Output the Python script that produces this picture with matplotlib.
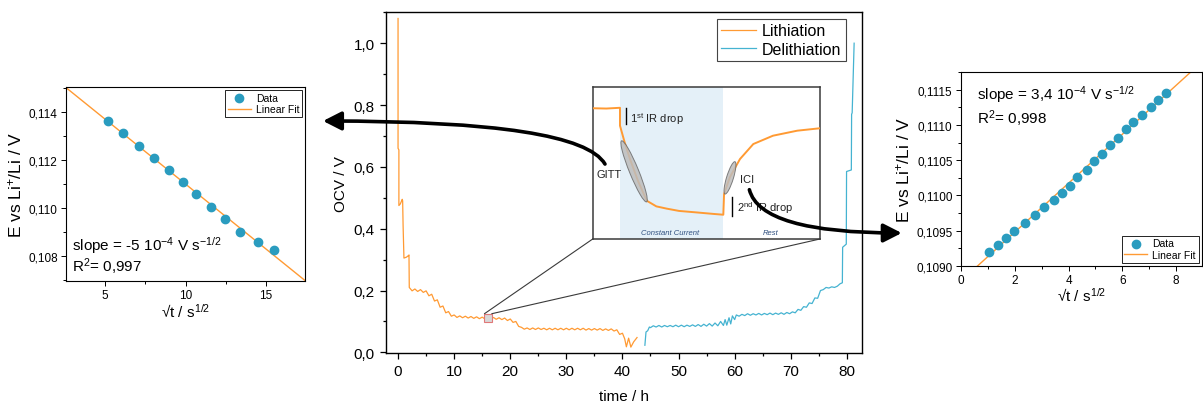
import numpy as np
import matplotlib
matplotlib.use("Agg")
import matplotlib.pyplot as plt
from matplotlib.patches import Ellipse, Rectangle, ConnectionPatch
from matplotlib.ticker import FuncFormatter, MultipleLocator

plt.rcParams['font.family'] = ['Liberation Sans', 'DejaVu Sans']
plt.rcParams['mathtext.fontset'] = 'custom'
plt.rcParams['mathtext.rm'] = 'Liberation Sans'
plt.rcParams['mathtext.it'] = 'Liberation Sans:italic'
plt.rcParams['mathtext.default'] = 'regular'

ORANGE = '#ff9a33'
CYAN = '#45b3d1'
TEAL = '#2a9cbf'

# --- GITT fit (left) ---
gitt_x = [5.2, 6.14, 7.11, 8.02, 8.96, 9.83, 10.67, 11.57, 12.47, 13.4, 14.48, 15.5]
gitt_y = [0.11363, 0.11313, 0.11260, 0.11211, 0.11160, 0.11110, 0.11058,
          0.11007, 0.10955, 0.10903, 0.10860, 0.10826]

# --- ICI fit (right) ---
ici_x = [1.04, 1.39, 1.67, 1.96, 2.37, 2.76, 3.10, 3.45, 3.74, 4.04, 4.32,
         4.67, 4.96, 5.24, 5.55, 5.84, 6.12, 6.41, 6.73, 7.05, 7.34, 7.63]
ici_y = [0.10920, 0.10930, 0.10939, 0.10950, 0.10961, 0.10972, 0.10984,
         0.10993, 0.11003, 0.11014, 0.11026, 0.11036, 0.11049, 0.11059,
         0.11071, 0.11081, 0.11094, 0.11104, 0.11114, 0.11125, 0.11136, 0.11146]

# --- OCV vs time (centre) ---
lithiation = [
    (0.0, 1.08), (0.0, 0.66), (0.15, 0.655), (0.15, 0.475), (0.4, 0.48),
    (0.75, 0.495), (0.82, 0.49), (0.9, 0.41), (1.05, 0.305), (1.5, 0.308),
    (1.85, 0.313), (1.95, 0.315), (2.0, 0.21), (2.5, 0.199), (3.0, 0.205),
    (3.5, 0.197), (4.0, 0.203), (4.5, 0.194), (5.0, 0.199), (5.5, 0.183),
    (6.0, 0.188), (6.5, 0.166), (7.0, 0.170), (7.5, 0.146), (8.0, 0.150),
    (8.5, 0.128), (9.0, 0.132), (9.5, 0.117), (10.0, 0.121), (10.5, 0.113),
    (11.0, 0.118), (11.5, 0.112), (12.0, 0.117), (12.5, 0.111), (13.0, 0.116),
    (13.5, 0.110), (14.0, 0.115), (14.5, 0.109), (15.0, 0.114), (15.5, 0.108),
    (16.0, 0.113), (16.5, 0.107), (17.0, 0.113), (17.5, 0.107), (18.0, 0.112),
    (18.5, 0.106), (19.0, 0.111), (19.5, 0.103), (20.0, 0.108), (20.5, 0.097),
    (21.0, 0.100), (21.5, 0.084), (22.0, 0.081), (22.5, 0.075), (23.0, 0.079),
    (23.5, 0.074), (24.0, 0.079), (24.5, 0.074), (25.0, 0.079), (25.5, 0.074),
    (26.0, 0.078), (26.5, 0.073), (27.0, 0.078), (27.5, 0.073), (28.0, 0.078),
    (28.5, 0.073), (29.0, 0.078), (29.5, 0.073), (30.0, 0.078), (30.5, 0.073),
    (31.0, 0.078), (31.5, 0.073), (32.0, 0.078), (32.5, 0.073), (33.0, 0.078),
    (33.5, 0.072), (34.0, 0.077), (34.5, 0.072), (35.0, 0.077), (35.5, 0.072),
    (36.0, 0.077), (36.5, 0.071), (37.0, 0.076), (37.5, 0.071), (38.0, 0.076),
    (38.5, 0.069), (39.0, 0.073), (39.5, 0.058), (40.0, 0.062), (40.4, 0.044),
    (40.7, 0.018), (41.1, 0.046), (41.5, 0.017), (42.0, 0.034), (42.6, 0.048),
]
delithiation = [
    (44.0, 0.023), (44.2, 0.066), (44.5, 0.070), (44.8, 0.082), (45.0, 0.080),
    (45.5, 0.086), (46.0, 0.082), (46.5, 0.087), (47.0, 0.082), (47.5, 0.087),
    (48.0, 0.083), (48.5, 0.087), (49.0, 0.083), (49.5, 0.088), (50.0, 0.083),
    (50.5, 0.088), (51.0, 0.083), (51.5, 0.088), (52.0, 0.084), (52.5, 0.089),
    (53.0, 0.084), (53.5, 0.090), (54.0, 0.084), (54.5, 0.091), (55.0, 0.085),
    (55.5, 0.093), (56.0, 0.085), (56.5, 0.095), (57.0, 0.086), (57.5, 0.100),
    (58.0, 0.087), (58.3, 0.106), (58.6, 0.088), (59.0, 0.112), (59.3, 0.092),
    (59.6, 0.118), (60.0, 0.106), (60.3, 0.121), (60.8, 0.117), (61.3, 0.123),
    (61.8, 0.119), (62.3, 0.125), (62.8, 0.120), (63.3, 0.125), (63.8, 0.121),
    (64.3, 0.126), (64.8, 0.121), (65.3, 0.126), (65.8, 0.122), (66.3, 0.127),
    (66.8, 0.122), (67.3, 0.127), (67.8, 0.123), (68.3, 0.128), (68.8, 0.123),
    (69.3, 0.129), (69.8, 0.125), (70.3, 0.131), (70.8, 0.128), (71.3, 0.139),
    (71.8, 0.136), (72.3, 0.148), (72.8, 0.146), (73.3, 0.160), (73.8, 0.158),
    (74.3, 0.176), (74.8, 0.175), (75.3, 0.200), (75.8, 0.203), (76.3, 0.210),
    (76.8, 0.208), (77.3, 0.212), (77.8, 0.210), (78.3, 0.214), (78.8, 0.222),
    (79.2, 0.225), (79.25, 0.34), (79.9, 0.35), (79.95, 0.585), (80.8, 0.59),
    (80.85, 0.77), (80.95, 0.775), (81.3, 1.0),
]
zoom_box = (15.4, 0.098, 1.3, 0.027)  # t0, V0, width, height

# --- schematic inset (single GITT/ICI step) ---
schem_x = [0.0, 0.09, 0.18, 0.18, 0.21, 0.246, 0.30, 0.357, 0.42, 0.489,
           0.57, 0.687, 0.80, 0.862, 0.867, 0.905, 0.972, 1.06, 1.19, 1.35, 1.5]
schem_y = [0.862, 0.860, 0.865, 0.747, 0.64, 0.527, 0.38, 0.252, 0.215, 0.20,
           0.185, 0.175, 0.165, 0.160, 0.297, 0.407, 0.527, 0.626, 0.681, 0.714, 0.730]


def comma(fmt):
    return FuncFormatter(lambda v, p: fmt.format(v).replace('.', ','))


def style_side(ax):
    ax.tick_params(which='both', direction='out', labelsize=8.5, width=0.7)
    ax.tick_params(which='major', length=3.5, pad=2.5)
    ax.tick_params(which='minor', length=2)
    for s in ax.spines.values():
        s.set_linewidth(0.8)


fig = plt.figure(figsize=(12.03, 4.06), dpi=100)

# left panel
ax_l = fig.add_axes([0.0549, 0.3054, 0.1987, 0.4778])
ax_l.scatter(gitt_x, gitt_y, s=36, color=TEAL, zorder=3, label='Data')
p = np.polyfit(gitt_x, gitt_y, 1)
xx = np.array([2.0, 18.0])
ax_l.plot(xx, np.polyval(p, xx), color=ORANGE, lw=1.0, label='Linear Fit')
ax_l.set_xlim(2.58, 17.42)
ax_l.set_ylim(0.10697, 0.11505)
ax_l.xaxis.set_major_locator(MultipleLocator(5))
ax_l.xaxis.set_minor_locator(MultipleLocator(2.5))
ax_l.yaxis.set_major_locator(MultipleLocator(0.002))
ax_l.yaxis.set_minor_locator(MultipleLocator(0.001))
ax_l.yaxis.set_major_formatter(comma('{:.3f}'))
style_side(ax_l)
ax_l.set_xlabel('√t / s$^{1/2}$', fontsize=11, labelpad=0)
ax_l.set_ylabel('E vs Li$^{+}$/Li / V', fontsize=12.5, labelpad=3)
ax_l.text(0.025, 0.19, 'slope = -5 10$^{-4}$ V s$^{-1/2}$', transform=ax_l.transAxes,
          fontsize=11, va='center')
ax_l.text(0.025, 0.08, 'R$^{2}$= 0,997', transform=ax_l.transAxes, fontsize=11, va='center')
ax_l.legend(loc='upper right', fontsize=7.5, frameon=True, fancybox=False, edgecolor='black',
            framealpha=1, handlelength=2.2, borderpad=0.25, labelspacing=0.15,
            handletextpad=0.5, borderaxespad=0.3).get_frame().set_linewidth(0.6)

# right panel
ax_r = fig.add_axes([0.7988, 0.3431, 0.2001, 0.4764])
ax_r.scatter(ici_x, ici_y, s=36, color=TEAL, zorder=3, label='Data')
p = np.polyfit(ici_x, ici_y, 1)
xx = np.array([0.0, 9.5])
ax_r.plot(xx, np.polyval(p, xx), color=ORANGE, lw=1.0, label='Linear Fit')
ax_r.set_xlim(0, 8.95)
ax_r.set_ylim(0.1090, 0.11175)
ax_r.xaxis.set_major_locator(MultipleLocator(2))
ax_r.xaxis.set_minor_locator(MultipleLocator(1))
ax_r.yaxis.set_major_locator(MultipleLocator(0.0005))
ax_r.yaxis.set_minor_locator(MultipleLocator(0.00025))
ax_r.yaxis.set_major_formatter(comma('{:.4f}'))
style_side(ax_r)
ax_r.set_xlabel('√t / s$^{1/2}$', fontsize=11, labelpad=0)
ax_r.set_ylabel('E vs Li$^{+}$/Li / V', fontsize=12.5, labelpad=3)
ax_r.text(0.065, 0.888, 'slope = 3,4 10$^{-4}$ V s$^{-1/2}$', transform=ax_r.transAxes,
          fontsize=11, va='center')
ax_r.text(0.065, 0.767, 'R$^{2}$= 0,998', transform=ax_r.transAxes, fontsize=11, va='center')
ax_r.legend(loc='lower right', fontsize=7.5, frameon=True, fancybox=False, edgecolor='black',
            framealpha=1, handlelength=2.2, borderpad=0.25, labelspacing=0.15,
            handletextpad=0.5, borderaxespad=0.3).get_frame().set_linewidth(0.6)

# centre panel
ax_c = fig.add_axes([0.3209, 0.1281, 0.3954, 0.8392])
lt, lv = zip(*lithiation)
dt, dv = zip(*delithiation)
ax_c.plot(lt, lv, color=ORANGE, lw=0.9, label='Lithiation')
ax_c.plot(dt, dv, color=CYAN, lw=0.9, label='Delithiation')
ax_c.set_xlim(-2.14, 82.65)
ax_c.set_ylim(-0.002, 1.1)
ax_c.xaxis.set_major_locator(MultipleLocator(10))
ax_c.xaxis.set_minor_locator(MultipleLocator(5))
ax_c.yaxis.set_major_locator(MultipleLocator(0.2))
ax_c.yaxis.set_minor_locator(MultipleLocator(0.1))
ax_c.yaxis.set_major_formatter(comma('{:.1f}'))
ax_c.tick_params(which='both', direction='out', labelsize=11, width=0.9)
ax_c.tick_params(which='major', length=4.5)
ax_c.tick_params(which='minor', length=2.5)
for s in ax_c.spines.values():
    s.set_linewidth(1.0)
ax_c.set_xlabel('time / h', fontsize=11, labelpad=8)
ax_c.set_ylabel('OCV / V', fontsize=11, labelpad=4)
leg = ax_c.legend(loc='upper right', bbox_to_anchor=(0.966, 0.979), borderaxespad=0,
                  fontsize=11.5, fancybox=False, edgecolor='#444444', framealpha=1,
                  handlelength=2.2, borderpad=0.25, labelspacing=0.2, handletextpad=0.4)
leg.get_frame().set_linewidth(0.8)
ax_c.add_patch(Rectangle(zoom_box[:2], zoom_box[2], zoom_box[3], facecolor='#d8d8d8',
                         edgecolor='#e07878', lw=0.8, zorder=4))

# inset schematic
ax_in = fig.add_axes([0.4927, 0.4089, 0.1889, 0.3736])
ax_in.set_xlim(0, 1.5)
ax_in.set_ylim(0, 1)
ax_in.set_xticks([])
ax_in.set_yticks([])
for s in ax_in.spines.values():
    s.set_linewidth(1.1)
    s.set_color('#3a3a3a')
ax_in.axvspan(schem_x[2], schem_x[13], color='#e4f0f8', lw=0)
ax_in.plot(schem_x, schem_y, color=ORANGE, lw=1.4, zorder=3)
ax_in.add_patch(Ellipse((0.273, 0.446), 0.435, 0.06, angle=-67.7, facecolor='#bdbdbd',
                        edgecolor='#6a6a6a', lw=0.7, alpha=0.85, zorder=4))
ax_in.add_patch(Ellipse((0.906, 0.403), 0.223, 0.045, angle=72.8, facecolor='#bdbdbd',
                        edgecolor='#6a6a6a', lw=0.7, alpha=0.85, zorder=4))
ax_in.plot([0.218, 0.218], [0.758, 0.862], color='black', lw=1.0)
ax_in.plot([0.918, 0.918], [0.154, 0.275], color='black', lw=1.0)
ax_in.text(0.246, 0.80, '1$^{st}$ IR drop', fontsize=8, va='center', color='#222222')
ax_in.text(0.95, 0.209, '2$^{nd}$ IR drop', fontsize=8, va='center', color='#222222')
ax_in.text(0.026, 0.43, 'GITT', fontsize=8, va='center', color='#222222')
ax_in.text(0.97, 0.395, 'ICI', fontsize=8, va='center', color='#222222')
ax_in.text(0.51, 0.045, 'Constant Current', fontsize=5.5, style='italic', ha='center',
           va='center', color='#2f4f7f')
ax_in.text(1.177, 0.045, 'Rest', fontsize=5.5, style='italic', ha='center',
           va='center', color='#2f4f7f')

# zoom connector lines
for xy_a, xy_b in [((zoom_box[0], zoom_box[1] + zoom_box[3]), (0, 0)),
                   ((zoom_box[0] + zoom_box[2], zoom_box[1] + zoom_box[3]), (1, 0))]:
    fig.add_artist(ConnectionPatch(xyA=xy_a, coordsA=ax_c.transData, xyB=xy_b,
                                   coordsB=ax_in.transAxes, color='#3a3a3a', lw=0.8))

# curved arrows to fit panels
fig.add_artist(ConnectionPatch(xyA=(0.081, 0.494), coordsA=ax_in.transData,
                               xyB=(1.075, 0.825), coordsB=ax_l.transAxes,
                               arrowstyle='-|>,head_length=0.55,head_width=0.28',
                               mutation_scale=20, lw=2.6, color='black',
                               connectionstyle='angle3,angleA=120,angleB=0',
                               shrinkA=0, shrinkB=0, zorder=10))
fig.add_artist(ConnectionPatch(xyA=(1.034, 0.325), coordsA=ax_in.transData,
                               xyB=(-0.246, 0.169), coordsB=ax_r.transAxes,
                               arrowstyle='-|>,head_length=0.55,head_width=0.28',
                               mutation_scale=20, lw=2.6, color='black',
                               connectionstyle='angle3,angleA=-75.7,angleB=0',
                               shrinkA=0, shrinkB=0, zorder=10))

fig.savefig('out.png', dpi=100)
